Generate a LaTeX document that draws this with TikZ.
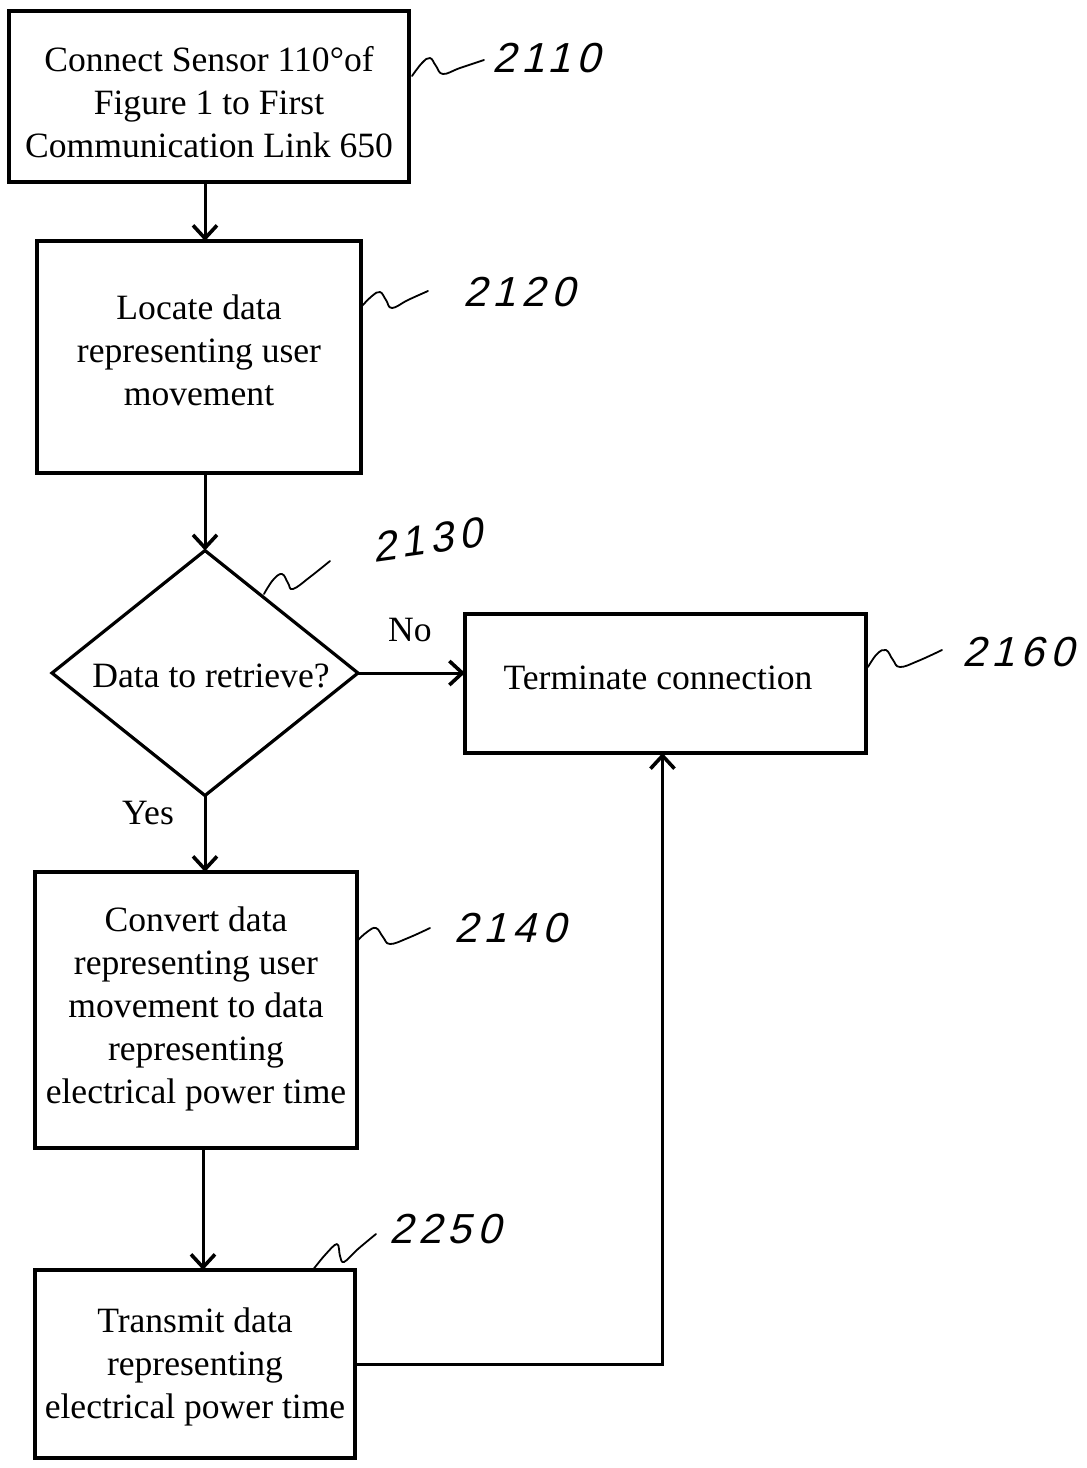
\documentclass[tikz,border=0pt]{standalone}
\usepackage{fontspec}
\setmainfont{Liberation Serif}
\newfontfamily\handfont{Liberation Sans}[FakeSlant=0.25,LetterSpace=14]
\usetikzlibrary{shapes.geometric,arrows.meta}
\begin{document}
\begin{tikzpicture}[x=1pt,y=-1pt,
  every node/.style={inner sep=0pt, outer sep=0pt},
  box/.style={draw, line width=3.2pt, rectangle},
  txt/.style={align=center, font=\fontsize{35.6}{43}\selectfont},
  dec/.style={draw, line width=3.2pt, diamond, aspect=1.24},
  arr/.style={line width=3pt, -{Straight Barb[length=13pt,width=24pt,line width=3.6pt]}},
  hand/.style={font=\handfont\fontsize{42}{44}\selectfont},
  sq/.style={line width=1.8pt, line cap=round, line join=round}]
\useasboundingbox (0,0) rectangle (1087,1468);
\fill[white] (0,0) rectangle (1087,1468);

\node[box, minimum width=400pt, minimum height=171pt] (b1) at (209,96.5) {};
\node[txt] (b1t) at (209,102)
  {Connect Sensor 110°of\\ Figure 1 to First\\ Communication Link 650};
\node[box, minimum width=324pt, minimum height=232pt] (b2) at (199,357) {};
\node[txt] (b2t) at (199,350)
  {Locate data\\ representing user\\ movement};
\node[dec, minimum width=306pt, minimum height=245pt] (d) at (205,673) {};
\node[txt] (dt) at (211,676) {Data to retrieve?};
\node[box, minimum width=401pt, minimum height=139pt] (t) at (665.5,683.5) {};
\node[txt] (tt) at (658,678) {Terminate connection};
\node[box, minimum width=322pt, minimum height=276pt] (b5) at (196,1010) {};
\node[txt] (b5t) at (196,1009)
  {Convert data\\ representing user\\ movement to data\\ representing\\ electrical power time};
\node[box, minimum width=320pt, minimum height=188pt] (b6) at (195,1364) {};
\node[txt] (b6t) at (195,1367)
  {Transmit data\\ representing\\ electrical power time};

\node[txt] (no) at (410,630) {No};
\node[txt] (yes) at (148,813) {Yes};

% connectors
\draw[arr] (b1.south -| d.north) -- (b2.north -| d.north);
\draw[arr] (b2.south -| d.north) -- (d.north);
\draw[arr] (d.east) -- (d.east -| t.west);
\draw[arr] (d.south) -- (d.south |- b5.north);
\draw[arr] (b5.south -| 203,0) -- (b6.north -| 203,0);
\draw[arr] (b6.east) -| ([xshift=-3pt]t.south);

% reference numerals (handwritten)
\node[hand] (h2110) at (546,58) {2110};
\draw[sq] plot[smooth, tension=0.7] coordinates {(412,76) (422,63) (430,58) (436,66) (443,74) (460,68) (484,60)};
\node[hand] (h2120) at (519,292) {2120};
\draw[sq] plot[smooth, tension=0.7] coordinates {(362,306) (372,296) (380,292) (386,300) (392,308) (408,300) (428,291)};
\node[hand, rotate=8] (h2130) at (427,540) {2130};
\draw[sq] plot[smooth, tension=0.7] coordinates {(264,594) (273,580) (282,574) (288,583) (293,589) (310,577) (330,561)};
\node[hand] (h2160) at (1018,652) {2160};
\draw[sq] plot[smooth, tension=0.7] coordinates {(868,667) (877,654) (886,650) (893,660) (900,667) (918,661) (942,650)};
\node[hand] (h2140) at (510,928) {2140};
\draw[sq] plot[smooth, tension=0.7] coordinates {(357,941) (367,932) (376,928) (383,937) (390,944) (408,938) (430,928)};
\node[hand] (h2250) at (445,1229) {2250};
\draw[sq] plot[smooth, tension=0.6] coordinates {(312,1271) (325,1255) (337,1244) (340,1256) (344,1262) (358,1249) (376,1234)};
\end{tikzpicture}
\end{document}
